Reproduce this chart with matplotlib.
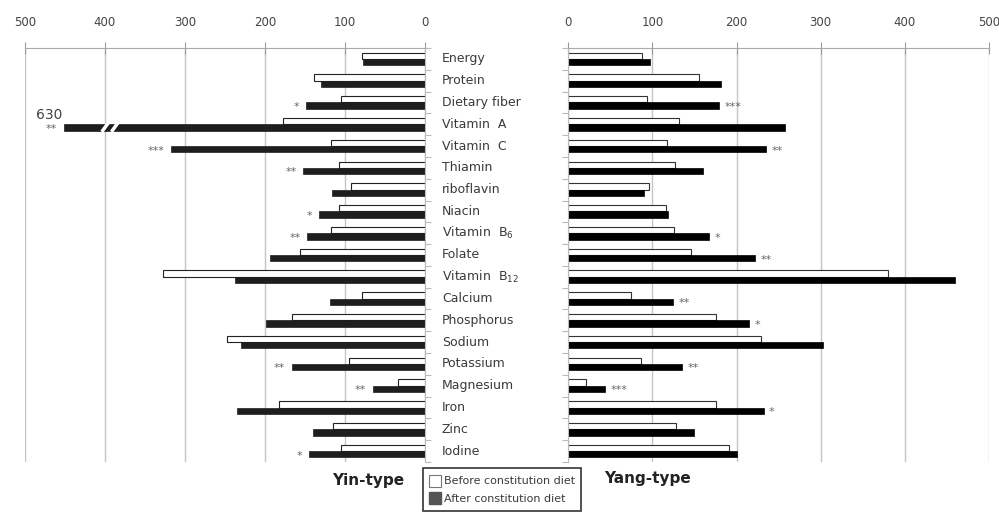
import matplotlib.pyplot as plt
import matplotlib.transforms as mtransforms
from matplotlib.patches import Patch

nutrients = ['Energy', 'Protein', 'Dietary fiber', 'Vitamin  A', 'Vitamin  C',
             'Thiamin', 'riboflavin', 'Niacin', 'Vitamin  B$_6$', 'Folate',
             'Vitamin  B$_{12}$', 'Calcium', 'Phosphorus', 'Sodium', 'Potassium',
             'Magnesium', 'Iron', 'Zinc', 'Iodine']

yin_before = [79, 139, 105, 177, 117, 108, 92, 108, 117, 156, 327, 79, 166, 247, 95, 34, 182, 115, 105]
yin_after = [78, 130, 149, 630, 317, 152, 116, 132, 147, 194, 237, 119, 199, 230, 166, 65, 235, 140, 145]
yang_before = [88, 155, 93, 132, 117, 127, 96, 116, 126, 146, 380, 75, 175, 229, 86, 21, 175, 128, 191]
yang_after = [97, 181, 179, 258, 235, 160, 90, 118, 167, 222, 460, 125, 215, 303, 135, 44, 232, 149, 200]

yin_stars = ['', '', '*', '**', '***', '**', '', '*', '**', '', '', '', '', '', '**', '**', '', '', '*']
yang_stars = ['', '', '***', '', '**', '', '', '', '*', '**', '', '**', '*', '', '**', '***', '*', '', '']

ticks = [0, 100, 200, 300, 400, 500]
axis_cut = 451  # bars longer than this are drawn broken

n = len(nutrients)
rows = list(range(n))
h = 0.29

fig = plt.figure(figsize=(9.99, 5.13), dpi=100)
axL = fig.add_axes([25 / 999, 51 / 513, 400 / 999, 414 / 513])
axR = fig.add_axes([568.3 / 999, 51 / 513, 420.7 / 999, 414 / 513])

grid_c = '#c4c4c4'
txt_c = '#3a3a3a'

for ax in (axL, axR):
    ax.set_ylim(n - 0.5, -0.5)
    ax.set_xticks(ticks)
    ax.xaxis.tick_top()
    ax.tick_params(axis='x', direction='inout', length=8, color='#999999',
                   labelsize=8.5, labelcolor='#444444', pad=10)
    ax.grid(axis='x', color=grid_c, lw=1)
    ax.set_axisbelow(True)
    for s in ('bottom', 'left', 'right'):
        ax.spines[s].set_visible(False)
    ax.spines['top'].set_color('#aaaaaa')
    ax.set_yticks([r - 0.5 for r in rows] + [n - 0.5])
    ax.set_yticklabels([])

axL.set_xlim(500, 0)
axR.set_xlim(0, 500)

axL.yaxis.tick_right()
axL.spines['right'].set_visible(True)
axL.spines['right'].set_color('#bbbbbb')
axL.tick_params(axis='y', direction='out', length=4, color='#bbbbbb')
axR.spines['left'].set_visible(True)
axR.spines['left'].set_color('#bbbbbb')
axR.tick_params(axis='y', direction='out', length=4, color='#bbbbbb')

# left panel (Yin-type)
yin_shown = [min(v, axis_cut) for v in yin_after]
axL.barh([r - h / 2 for r in rows], yin_before, height=h, color='white',
         edgecolor='#222222', lw=0.8)
axL.barh([r + h / 2 for r in rows], yin_shown, height=h, color='#1e1e1e',
         edgecolor='#1e1e1e', lw=0.5)

for r, v, s in zip(rows, yin_after, yin_stars):
    end = min(v, axis_cut)
    if s:
        axL.annotate(s, (end, r + h / 2), xytext=(-5, -1), textcoords='offset points',
                     ha='right', va='center', fontsize=8, color='#666666')
    if v > axis_cut:
        axL.annotate(str(v), (end, r + h / 2), xytext=(-11, 9), textcoords='offset points',
                     ha='center', va='center', fontsize=10, color='#444444')
        for bx in (400, 388):
            axL.plot([bx + 4, bx - 4], [r + h / 2 + 0.2, r + h / 2 - 0.2],
                     color='white', lw=2.5, solid_capstyle='butt')

# right panel (Yang-type)
axR.barh([r - h / 2 for r in rows], yang_before, height=h, color='white',
         edgecolor='#333333', lw=0.8)
axR.barh([r + h / 2 for r in rows], yang_after, height=h, color='black',
         edgecolor='black', lw=0.5)

for r, v, s in zip(rows, yang_after, yang_stars):
    if s:
        axR.annotate(s, (v, r + h / 2), xytext=(4, -1), textcoords='offset points',
                     ha='left', va='center', fontsize=8, color='#666666')

# category labels between the panels
trans = mtransforms.blended_transform_factory(fig.transFigure, axL.transData)
for r, name in zip(rows, nutrients):
    axL.text(442 / 999, r, name, transform=trans, ha='left', va='center',
             fontsize=9, color=txt_c, clip_on=False)

fig.text(368 / 999, 1 - 480 / 513, 'Yin-type', ha='center', va='center',
         fontsize=11, fontweight='bold', color='#222222')
fig.text(647 / 999, 1 - 479 / 513, 'Yang-type', ha='center', va='center',
         fontsize=11, fontweight='bold', color='#222222')

handles = [Patch(facecolor='white', edgecolor='#777777', lw=0.8),
           Patch(facecolor='#555555', edgecolor='#555555')]
leg = fig.legend(handles, ['Before constitution diet', 'After constitution diet'],
                 loc='upper center', bbox_to_anchor=(502 / 999, 1 - 468 / 513),
                 fontsize=8, frameon=True, fancybox=False, edgecolor='black',
                 handlelength=1.1, handleheight=1.3, handletextpad=0.2,
                 labelspacing=0.45, borderpad=0.6, borderaxespad=0)
leg.get_frame().set_linewidth(1.2)
for t in leg.get_texts():
    t.set_color(txt_c)

fig.savefig('out.png', dpi=100)
